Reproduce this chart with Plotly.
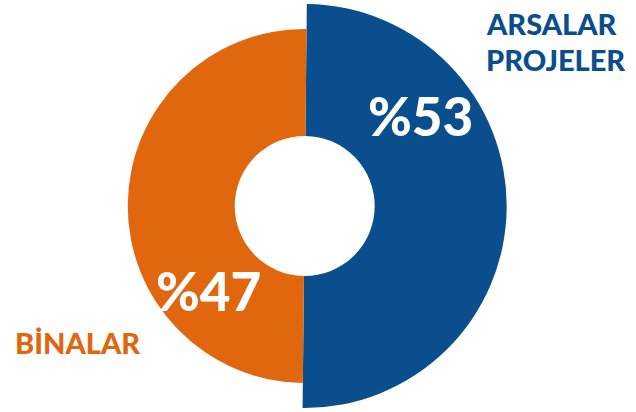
import plotly.graph_objects as go

# Data
categories = ["ARSALAR PROJELER", "BİNALAR"]
shares = [53, 47]              # percentages shown as labels
slice_values = [50, 50]        # slice sizes as drawn in the picture (split looks even)
colors = ["#0A4E8E", "#E1670F"]

W, H = 636, 412
cx, cy = 304.7, 206.0
r_blue, r_orange, r_hole = 202.0, 177.0, 70.0

def dom(r):
    return dict(x=[(cx - r) / W, (cx + r) / W], y=[1 - (cy + r) / H, 1 - (cy - r) / H])

fig = go.Figure()
fig.add_trace(go.Pie(
    labels=categories, values=slice_values, sort=False, direction="clockwise", rotation=0.6,
    marker=dict(colors=[colors[0], "rgba(0,0,0,0)"], line=dict(width=0)),
    hole=r_hole / r_blue, domain=dom(r_blue), textinfo="none", hoverinfo="skip", showlegend=False,
))
fig.add_trace(go.Pie(
    labels=categories, values=slice_values, sort=False, direction="clockwise", rotation=0.6,
    marker=dict(colors=["rgba(0,0,0,0)", colors[1]], line=dict(width=0)),
    hole=r_hole / r_orange, domain=dom(r_orange), textinfo="none", hoverinfo="skip", showlegend=False,
))

font_family = "Lato"
def px(x, y):
    return x / W, 1 - y / H

ann = []
# percent labels
for (x, y), s in zip([(420, 115), (208, 290)], shares):
    ax, ay = px(x, y)
    ann.append(dict(x=ax, y=ay, xref="paper", yref="paper", text=f"%{s}", showarrow=False,
                    font=dict(family=font_family, size=53, color="white", weight=900),
                    xanchor="center", yanchor="middle"))
# category labels
name_lines = [("ARSALAR", 484, 24, colors[0], 29), ("PROJELER", 484, 59, colors[0], 29),
              ("BİNALAR", 13, 342, colors[1], 29)]
for t, x, y, c, s in name_lines:
    ax, ay = px(x, y)
    ann.append(dict(x=ax, y=ay, xref="paper", yref="paper", text=t, showarrow=False,
                    font=dict(family=font_family, size=s, color=c, weight=900),
                    xanchor="left", yanchor="middle"))

fig.update_layout(width=W, height=H, margin=dict(l=0, r=0, t=0, b=0),
                  paper_bgcolor="white", plot_bgcolor="white", annotations=ann, showlegend=False)
fig.write_html("out.html", config={"displayModeBar": False},
               post_script="document.body.style.margin='0';document.body.style.overflow='hidden';")
